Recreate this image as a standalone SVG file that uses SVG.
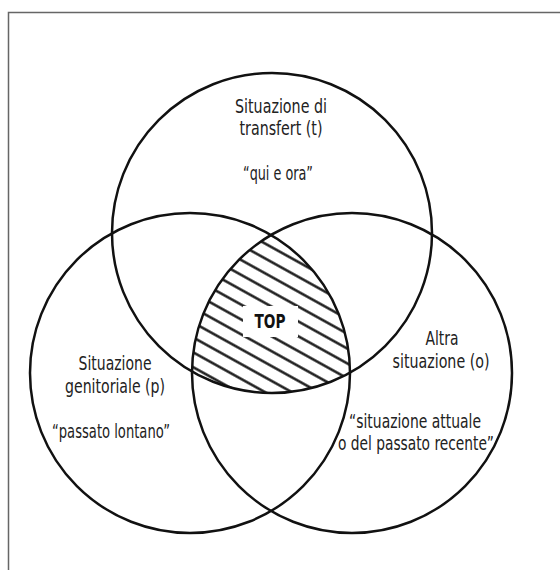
<svg xmlns="http://www.w3.org/2000/svg" width="560" height="570" viewBox="0 0 560 570">
<style>
.ring{fill:none;stroke:#111;stroke-width:2.5}
.lbl{font-family:"DejaVu Sans Condensed","Liberation Sans",sans-serif;font-size:20px;fill:#222;text-anchor:middle}
.top{font-family:"DejaVu Sans Condensed","Liberation Sans",sans-serif;font-size:20px;font-weight:bold;fill:#111;text-anchor:middle}
</style>
<defs>
<pattern id="hatch" patternUnits="userSpaceOnUse" width="13" height="13" patternTransform="rotate(29)">
<line x1="-2" y1="6.5" x2="15" y2="6.5" stroke="#111" stroke-width="2.4"/>
</pattern>
<clipPath id="cT"><circle cx="272" cy="233" r="160"/></clipPath>
<clipPath id="cP"><circle cx="190" cy="373" r="160"/></clipPath>
<clipPath id="cO"><circle cx="352" cy="373" r="160"/></clipPath>
</defs>
<rect width="560" height="570" fill="#fff"/>
<path d="M8.5,570 V12.5 H560" fill="none" stroke="#666" stroke-width="1.5"/>
<g id="node-top">
<g clip-path="url(#cT)"><g clip-path="url(#cP)"><rect x="100" y="200" width="360" height="220" fill="url(#hatch)" clip-path="url(#cO)"/></g></g>
<rect x="243" y="306" width="55" height="31" fill="#fff"/>
<text class="top" x="270" y="328" textLength="31" lengthAdjust="spacingAndGlyphs">TOP</text>
</g>
<g id="node-t">
<circle class="ring" cx="272" cy="233" r="160"/>
<text class="lbl" x="281" y="113" textLength="92" lengthAdjust="spacingAndGlyphs">Situazione di</text>
<text class="lbl" x="281" y="135" textLength="83" lengthAdjust="spacingAndGlyphs">transfert (t)</text>
<text class="lbl" x="278" y="180" textLength="70" lengthAdjust="spacingAndGlyphs">“qui e ora”</text>
</g>
<g id="node-p">
<circle class="ring" cx="190" cy="373" r="160"/>
<text class="lbl" x="115" y="370" textLength="73" lengthAdjust="spacingAndGlyphs">Situazione</text>
<text class="lbl" x="115" y="393" textLength="100" lengthAdjust="spacingAndGlyphs">genitoriale (p)</text>
<text class="lbl" x="111" y="438" textLength="118" lengthAdjust="spacingAndGlyphs">“passato lontano”</text>
</g>
<g id="node-o">
<circle class="ring" cx="352" cy="373" r="160"/>
<text class="lbl" x="442" y="345" textLength="33" lengthAdjust="spacingAndGlyphs">Altra</text>
<text class="lbl" x="441" y="368" textLength="97" lengthAdjust="spacingAndGlyphs">situazione (o)</text>
<text class="lbl" x="415" y="428" textLength="132" lengthAdjust="spacingAndGlyphs">“situazione attuale</text>
<text class="lbl" x="416" y="450" textLength="156" lengthAdjust="spacingAndGlyphs">o del passato recente”</text>
</g>
<g id="connectors"/>
</svg>
